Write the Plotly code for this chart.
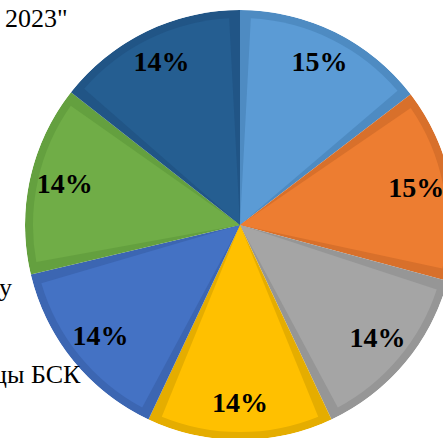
import plotly.graph_objects as go

# Data (clockwise from 12 o'clock)
shares = [14.6, 14.6, 13.8, 14.0, 14.3, 14.3, 14.4]
fill_colors = ["#5B9BD5", "#ED7D31", "#A5A5A5", "#FFC000", "#4472C4", "#70AD47", "#255E91"]
edge_colors = ["#4E8BC2", "#D8702B", "#969696", "#E5AD00", "#3C66B2", "#64A03F", "#215586"]
title_tail = "2023\""
legend_tails = ["у", "цы БСК"]

W, H = 480, 450
total = sum(shares)
angles = [v / total * 360 for v in shares]
mids = []
acc = 0
for a in angles:
    mids.append(acc + a / 2)
    acc += a
labels = [f"{round(v / total * 100)}%" for v in shares]

R_PX = 215
inset_r = 1 - 8 / R_PX
inset_deg = 6.0
FONT = "Liberation Serif, Times New Roman, serif"

fig = go.Figure()
fig.add_trace(go.Barpolar(r=[1] * len(shares), theta=mids, width=angles,
                          marker=dict(color=edge_colors, line=dict(width=0)),
                          hoverinfo="skip", showlegend=False))
fig.add_trace(go.Barpolar(r=[inset_r] * len(shares), theta=mids,
                          width=[a - inset_deg for a in angles],
                          marker=dict(color=fill_colors, line=dict(width=0)),
                          hoverinfo="skip", showlegend=False))
fig.add_trace(go.Scatterpolar(r=[0.835] * len(shares), theta=mids, mode="text",
                              text=[f"<b>{t}</b>" for t in labels],
                              textfont=dict(family=FONT, size=28, color="black"),
                              hoverinfo="skip", showlegend=False))

cx, cy = 240, 225
fig.update_layout(
    width=W, height=H,
    margin=dict(l=0, r=0, t=0, b=0),
    paper_bgcolor="white",
    polar=dict(
        domain=dict(x=[(cx - R_PX) / W, (cx + R_PX) / W],
                    y=[1 - (cy + R_PX) / H, 1 - (cy - R_PX) / H]),
        bgcolor="rgba(0,0,0,0)",
        angularaxis=dict(visible=False, direction="clockwise", rotation=90),
        radialaxis=dict(visible=False, range=[0, 1]),
        bargap=0,
        barmode="overlay",
    ),
    annotations=[
        dict(text=title_tail, xref="paper", yref="paper", x=70 / W, y=1 - 18 / H,
             xanchor="right", yanchor="middle", showarrow=False,
             font=dict(family=FONT, size=26, color="black")),
        dict(text=legend_tails[0], xref="paper", yref="paper", x=14 / W, y=1 - 287 / H,
             xanchor="right", yanchor="middle", showarrow=False,
             font=dict(family=FONT, size=26, color="black")),
        dict(text=legend_tails[1], xref="paper", yref="paper", x=83 / W, y=1 - 374 / H,
             xanchor="right", yanchor="middle", showarrow=False,
             font=dict(family=FONT, size=26, color="black")),
    ],
)

fig.write_html("out.html", config={"displayModeBar": False},
               post_script="document.body.style.margin='0';document.body.style.overflow='hidden';document.documentElement.style.overflow='hidden';")
